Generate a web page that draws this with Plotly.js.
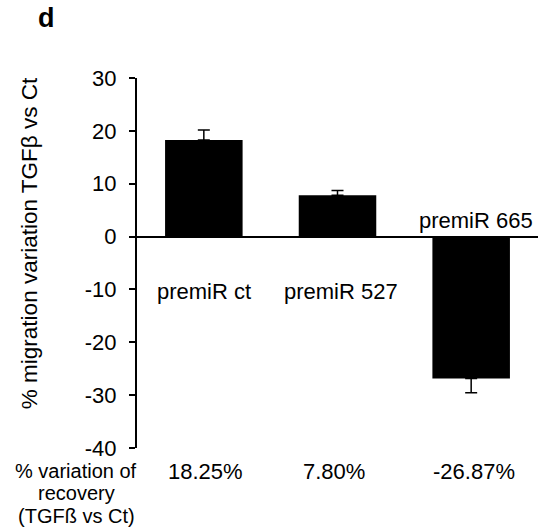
<!DOCTYPE html>
<html>
<head>
<meta charset="utf-8">
<script src="https://cdn.plot.ly/plotly-3.0.1.min.js"></script>
<style>html,body{margin:0;padding:0;background:#fff;}#chart{width:558px;height:530px;}</style>
</head>
<body>
<div id="chart"></div>
<script>
var categories = ["premiR ct", "premiR 527", "premiR 665"];
var values = [18.25, 7.80, -26.87];
var errUp = [1.9, 0.9, 0];
var errDown = [0, 0, 2.7];
var recoveryLabels = ["18.25%", "7.80%", "-26.87%"];
var yTickVals = [-40, -30, -20, -10, 0, 10, 20, 30];
var rowLabel = ["% variation of", "recovery", "(TGF\u00DF vs Ct)"];

var FONT = "Liberation Sans, Arial, sans-serif";

var trace = {
  type: "bar",
  x: categories,
  y: values,
  marker: {color: "#000000", line: {width: 0}},
  error_y: {
    type: "data", symmetric: false,
    array: errUp, arrayminus: errDown,
    color: "#000000", thickness: 1.5, width: 6
  },
  hoverinfo: "none"
};

var annotations = [];
var labelY = [-10.4, -10.4, 3.0];
var labelShift = [0, 3, 5];
categories.forEach(function (c, i) {
  annotations.push({
    xref: "x", yref: "y", x: c, y: labelY[i], xshift: labelShift[i],
    text: c, showarrow: false, xanchor: "center", yanchor: "middle",
    font: {family: FONT, size: 22, color: "#000"}
  });
});
var recShift = [2, -4, 3];
recoveryLabels.forEach(function (t, i) {
  annotations.push({
    xref: "x", yref: "paper", x: categories[i], y: -0.064, xshift: recShift[i],
    text: t, showarrow: false, xanchor: "center", yanchor: "middle",
    font: {family: FONT, size: 22, color: "#000"}
  });
});
var rowY = [-0.062, -0.1225, -0.183];
rowLabel.forEach(function (t, i) {
  annotations.push({
    xref: "paper", yref: "paper", x: -0.152, y: rowY[i],
    text: t, showarrow: false, xanchor: "center", yanchor: "middle",
    font: {family: FONT, size: 20, color: "#000"}
  });
});
annotations.push({
  xref: "paper", yref: "paper", x: -0.269, y: 0.554,
  text: "% migration variation TGF\u03B2 vs Ct", textangle: -90,
  showarrow: false, xanchor: "center", yanchor: "middle",
  font: {family: FONT, size: 22.5, color: "#000"}
});
annotations.push({
  xref: "paper", yref: "paper", x: -0.2257, y: 1.1635,
  text: "<b>d</b>", showarrow: false, xanchor: "center", yanchor: "middle",
  font: {family: FONT, size: 27, color: "#000"}
});

var layout = {
  width: 558, height: 530,
  margin: {l: 137, r: 20, t: 78, b: 82, pad: 0},
  paper_bgcolor: "#fff", plot_bgcolor: "#fff",
  showlegend: false,
  bargap: 0.42,
  xaxis: {
    type: "category", range: [-0.5, 2.5],
    showticklabels: false, showline: false, showgrid: false, zeroline: false, ticks: ""
  },
  yaxis: {
    range: [-40, 30], tickvals: yTickVals, ticktext: yTickVals.map(String),
    ticks: "outside", ticklen: 6, tickwidth: 2, tickcolor: "#000",
    showline: true, linewidth: 2, linecolor: "#000",
    showgrid: false, zeroline: true, zerolinewidth: 2, zerolinecolor: "#000",
    ticklabelstandoff: 8,
    tickfont: {family: FONT, size: 22, color: "#000"}
  },
  annotations: annotations
};

Plotly.newPlot("chart", [trace], layout, {displayModeBar: false, staticPlot: true});
</script>
</body>
</html>
